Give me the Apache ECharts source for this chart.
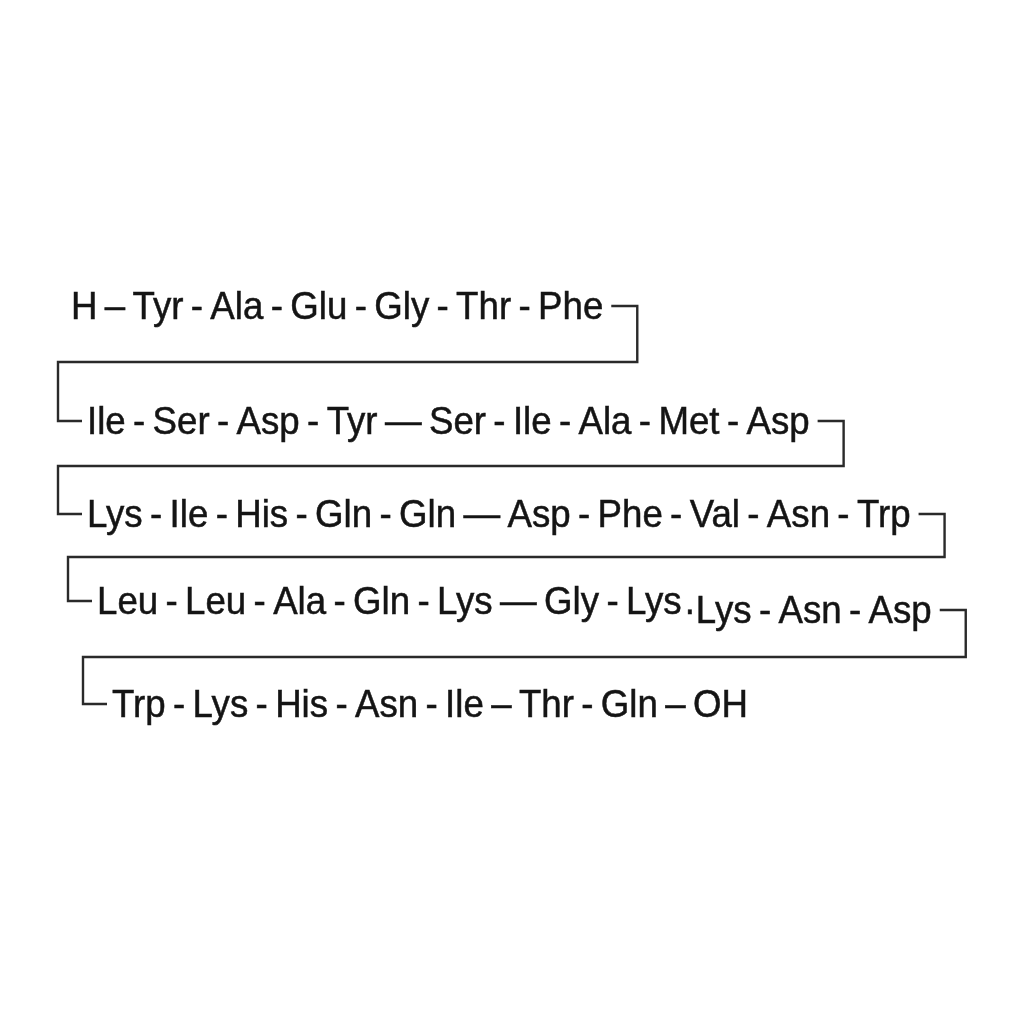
<!DOCTYPE html>
<html>
<head>
<meta charset="utf-8">
<script src="https://cdn.jsdelivr.net/npm/echarts@6/dist/echarts.min.js"></script>
<style>
html, body { margin: 0; padding: 0; background: #fff; }
#main { width: 1024px; height: 1024px; }
</style>
</head>
<body>
<div id="main"></div>
<script>
// residues per printed line, and the bond drawn between each pair
var row1 = ['H', 'Tyr', 'Ala', 'Glu', 'Gly', 'Thr', 'Phe'];
var bonds1 = ['–', '-', '-', '-', '-', '-'];
var row2 = ['Ile', 'Ser', 'Asp', 'Tyr', 'Ser', 'Ile', 'Ala', 'Met', 'Asp'];
var bonds2 = ['-', '-', '-', '—', '-', '-', '-', '-'];
var row3 = ['Lys', 'Ile', 'His', 'Gln', 'Gln', 'Asp', 'Phe', 'Val', 'Asn', 'Trp'];
var bonds3 = ['-', '-', '-', '-', '—', '-', '-', '-', '-'];
var row4 = ['Leu', 'Leu', 'Ala', 'Gln', 'Lys', 'Gly', 'Lys'];
var bonds4 = ['-', '-', '-', '-', '—', '-'];
var row4tail = ['Lys', 'Asn', 'Asp'];
var bonds4tail = ['-', '-'];
var tailLink = '·';
var row5 = ['Trp', 'Lys', 'His', 'Asn', 'Ile', 'Thr', 'Gln', 'OH'];
var bonds5 = ['-', '-', '-', '-', '–', '-', '–'];

// page layout (pixels)
var FONT_SIZE = 38;
var SCALE_X = 0.965;
var FONT_FAMILY = '"Liberation Sans", Arial, Helvetica, sans-serif';
var GAP = '\u2009';
var rowY = [306, 421, 514, 601, 704];
var rowLeft = [42, 58, 58, 68, 83];
var linkY = [362, 466, 557, 657];
var tailDrop = 9;

function joinRow(names, bonds) {
	var s = names[0];
	for (var i = 1; i < names.length; i++) {
		s += GAP + bonds[i - 1] + GAP + names[i];
	}
	return s;
}

var ctx = document.createElement('canvas').getContext('2d');
ctx.font = FONT_SIZE + 'px ' + FONT_FAMILY;
function textWidth(s) {
	return ctx.measureText(s).width * SCALE_X;
}

var rows = [
	joinRow(row1, bonds1),
	joinRow(row2, bonds2),
	joinRow(row3, bonds3),
	joinRow(row4, bonds4),
	joinRow(row5, bonds5)
];
var tailText = tailLink + joinRow(row4tail, bonds4tail);

// text pieces: [x, y, text]
var pieces = [];
var rowEnd = [];
for (var r = 0; r < rows.length; r++) {
	var x0 = rowLeft[r] + 29;
	pieces.push([x0, rowY[r], rows[r]]);
	var end = x0 + textWidth(rows[r]);
	var endY = rowY[r];
	if (r == 3) {
		pieces.push([end + 2, rowY[r] + tailDrop, tailText]);
		end = end + 2 + textWidth(tailText);
		endY = rowY[r] + tailDrop;
	}
	rowEnd.push({ x: end, y: endY });
}

// brackets joining the end of one line to the start of the next
var lineSeries = [];
for (var k = 0; k < rows.length - 1; k++) {
	var rx = rowEnd[k].x + 34;
	var path = [
		[rowEnd[k].x + 8, rowEnd[k].y],
		[rx, rowEnd[k].y],
		[rx, linkY[k]],
		[rowLeft[k + 1], linkY[k]],
		[rowLeft[k + 1], rowY[k + 1]],
		[rowLeft[k + 1] + 24, rowY[k + 1]]
	];
	lineSeries.push({
		type: 'line',
		data: path,
		showSymbol: false,
		silent: true,
		animation: false,
		lineStyle: { color: '#2a2a2a', width: 2.4, join: 'miter', cap: 'butt' }
	});
}

var chart = echarts.init(document.getElementById('main'), null, { renderer: 'canvas' });
var option = {
	backgroundColor: '#ffffff',
	animation: false,
	grid: { left: 0, right: 0, top: 0, bottom: 0 },
	xAxis: { type: 'value', min: 0, max: 1024, show: false },
	yAxis: { type: 'value', min: 0, max: 1024, inverse: true, show: false },
	series: lineSeries.concat([{
		type: 'custom',
		data: pieces,
		silent: true,
		renderItem: function (params, api) {
			var p = api.coord([api.value(0), api.value(1)]);
			return {
				type: 'text',
				x: p[0],
				y: p[1] + 3,
				scaleX: SCALE_X,
				style: {
					text: pieces[params.dataIndex][2],
					fontSize: FONT_SIZE,
					fontFamily: FONT_FAMILY,
					fill: '#141414',
					stroke: '#141414',
					lineWidth: 0.5,
					align: 'left',
					verticalAlign: 'middle'
				}
			};
		}
	}])
};
chart.setOption(option);
</script>
</body>
</html>
